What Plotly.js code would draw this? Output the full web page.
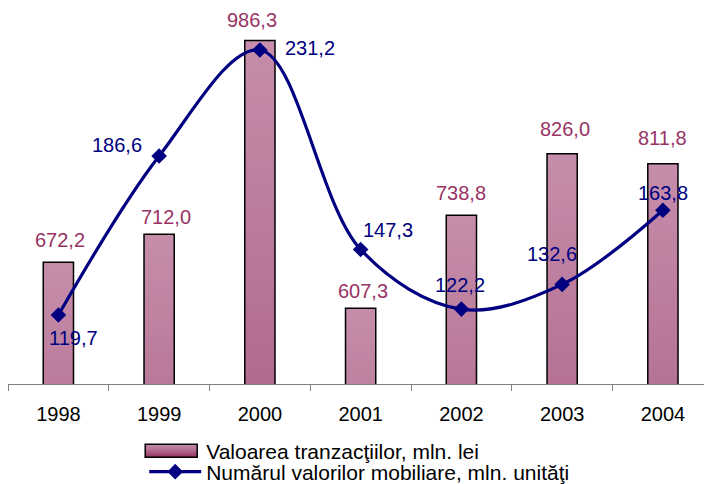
<!DOCTYPE html>
<html>
<head>
<meta charset="utf-8">
<script src="https://cdn.plot.ly/plotly-3.0.1.min.js"></script>
<style>
  html, body { margin: 0; padding: 0; background: #fff; }
  #chart { width: 704px; height: 484px; }
</style>
</head>
<body>
<div id="chart"></div>
<script>
// ---- data ----
const years = ['1998', '1999', '2000', '2001', '2002', '2003', '2004'];
const valoarea = [672.2, 712.0, 986.3, 607.3, 738.8, 826.0, 811.8];      // mln. lei
const numarul = [119.7, 186.6, 231.2, 147.3, 122.2, 132.6, 163.8];       // mln. unităţi
const barLabels = ['672,2', '712,0', '986,3', '607,3', '738,8', '826,0', '811,8'];
const lineLabels = ['119,7', '186,6', '231,2', '147,3', '122,2', '132,6', '163,8'];

// label offsets (pixels) — styling only
const barLabelOffsets = [[2, -22], [7, -17], [-8, -20], [2, -17], [0, -22], [3, -25], [0, -26]];
const lineLabelOffsets = [[15, 23], [-42, -11], [50, -2], [27, -19], [-1, -24], [-10, -30], [0, -17]];

const FONT = 'Arial, "Liberation Sans", sans-serif';
const BAR_TEXT = '#993366';
const LINE_COL = '#000080';

const traces = [
  {
    type: 'bar',
    x: years,
    y: valoarea,
    name: 'Valoarea tranzacţiilor, mln. lei',
    width: 0.3,
    marker: { color: '#b06a8e', line: { color: '#000000', width: 1.5 } },
    hoverinfo: 'none',
    yaxis: 'y',
    legend: 'legend'
  },
  {
    type: 'scatter',
    mode: 'lines+markers',
    x: years,
    y: numarul,
    name: 'Numărul valorilor mobiliare, mln. unităţi',
    line: { color: LINE_COL, width: 3.2, shape: 'spline', smoothing: 1 },
    marker: { symbol: 'diamond', size: 12, color: LINE_COL },
    hoverinfo: 'none',
    yaxis: 'y2',
    legend: 'legend2'
  }
];

const annotations = [];
years.forEach((yr, i) => {
  annotations.push({
    x: i, y: valoarea[i], xref: 'x', yref: 'y',
    text: barLabels[i], showarrow: false,
    xshift: barLabelOffsets[i][0], yshift: -barLabelOffsets[i][1],
    font: { family: FONT, size: 20, color: BAR_TEXT }
  });
  annotations.push({
    x: i, y: numarul[i], xref: 'x', yref: 'y2',
    text: lineLabels[i], showarrow: false,
    xshift: lineLabelOffsets[i][0], yshift: -lineLabelOffsets[i][1],
    font: { family: FONT, size: 20, color: LINE_COL }
  });
});

const legendBase = {
  orientation: 'v',
  x: 0.1957, xanchor: 'left',
  yanchor: 'middle',
  font: { family: FONT, size: 21, color: '#000000' },
  bgcolor: 'rgba(0,0,0,0)',
  itemwidth: 52
};

const layout = {
  width: 704,
  height: 484,
  margin: { l: 8, r: 0, t: 30, b: 100, autoexpand: false },
  paper_bgcolor: '#ffffff',
  plot_bgcolor: '#ffffff',
  font: { family: FONT, size: 20, color: '#000000' },
  showlegend: true,
  legend: Object.assign({}, legendBase, { y: -0.1893 }),
  legend2: Object.assign({}, legendBase, { y: -0.2486 }),
  xaxis: {
    type: 'category',
    range: [-0.5, 6.408],
    showgrid: false,
    zeroline: false,
    showline: true,
    linecolor: '#808080',
    linewidth: 1,
    ticks: 'outside',
    tickson: 'boundaries',
    ticklen: 6,
    tickcolor: '#808080',
    ticklabelstandoff: 12,
    tickfont: { family: FONT, size: 20, color: '#000000' },
    fixedrange: true
  },
  yaxis: {
    range: [500, 1001],
    visible: false,
    fixedrange: true
  },
  yaxis2: {
    range: [90.7, 239.6],
    overlaying: 'y',
    side: 'right',
    visible: false,
    fixedrange: true
  },
  annotations: annotations,
  bargap: 0.7
};

Plotly.newPlot('chart', traces, layout, { displayModeBar: false, staticPlot: true }).then(gd => {
  const svgNS = 'http://www.w3.org/2000/svg';
  const svg = gd.querySelector('svg.main-svg');
  let defs = svg.querySelector('defs');
  if (!defs) { defs = document.createElementNS(svgNS, 'defs'); svg.insertBefore(defs, svg.firstChild); }
  const grad = document.createElementNS(svgNS, 'linearGradient');
  grad.setAttribute('id', 'barGrad');
  grad.setAttribute('x1', '0'); grad.setAttribute('y1', '0');
  grad.setAttribute('x2', '0'); grad.setAttribute('y2', '1');
  [['0%', '#c68eab'], ['50%', '#b06a8e'], ['100%', '#943062']].forEach(([o, c]) => {
    const s = document.createElementNS(svgNS, 'stop');
    s.setAttribute('offset', o); s.setAttribute('stop-color', c);
    grad.appendChild(s);
  });
  defs.appendChild(grad);
  gd.querySelectorAll('g.trace.bars path').forEach(p => { p.style.fill = 'url(#barGrad)'; });
  gd.querySelectorAll('g.legend').forEach(lg => {
    lg.querySelectorAll('[clip-path]').forEach(el => el.removeAttribute('clip-path'));
    lg.querySelectorAll('g.traces').forEach(t => {
      if (t.textContent.indexOf('Valoarea') === 0) {
        t.querySelectorAll('g.legendpoints path').forEach(p => {
          p.setAttribute('d', 'M-30,6.5H22V-6.5H-30Z');
          p.style.fill = 'url(#barGrad)';
          p.style.stroke = '#000';
          p.style.strokeWidth = '1.5px';
        });
      }
    });
  });
});
</script>
</body>
</html>
